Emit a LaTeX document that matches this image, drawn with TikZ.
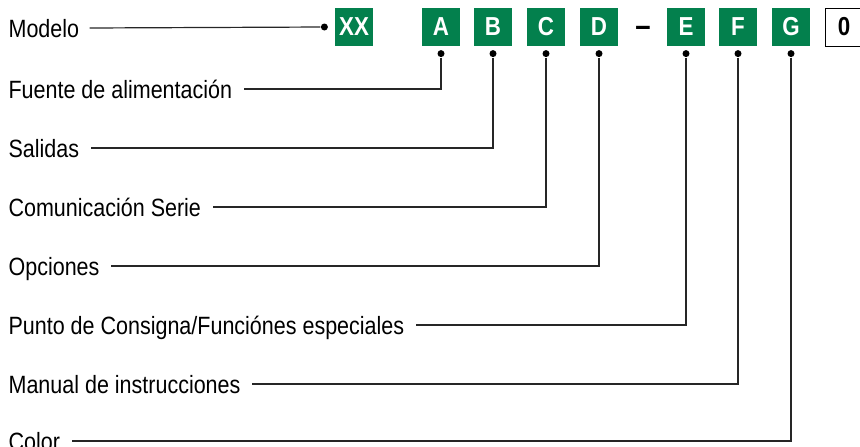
\documentclass[tikz,border=0pt]{standalone}
\usepackage{fontspec}
\setmainfont{Liberation Sans}[FakeStretch=0.86]
\usetikzlibrary{arrows}
\definecolor{codegreen}{RGB}{3,128,77}

\begin{document}
\begin{tikzpicture}[x=1pt,y=-1pt,line width=1.2pt,
    code node/.style={fill=codegreen,text=white,minimum width=38pt,minimum height=38pt,
      inner sep=0pt,font=\bfseries\fontsize{26}{26}\selectfont},
    label node/.style={anchor=west,inner sep=0pt,text height=25pt,text depth=6pt,
      font=\fontsize{25}{25}\selectfont},
    wire/.style={draw=black!85},
    dot/.style={circle,fill=black,inner sep=0pt,minimum size=7pt}]
  \useasboundingbox (0,0) rectangle (860,447);

  % code boxes
  \node[code node] (xx) at (354,27) {XX};
  \node[code node] (a) at (441,27) {A};
  \node[code node] (b) at (493,27) {B};
  \node[code node] (c) at (546,27) {C};
  \node[code node] (d) at (599,27) {D};
  \node[font=\bfseries\fontsize{32}{32}\selectfont] (dash) at (643,31) {–};
  \node[code node] (e) at (686,27) {E};
  \node[code node] (f) at (738,27) {F};
  \node[code node] (g) at (791,27) {G};
  \node[code node,fill=white,text=black,draw=black,line width=0.8pt] (zero) at (844,27) {0};

  % labels
  \node[label node] (modelo) at (8,28) {Modelo};
  \node[label node] (fuente) at (8,89) {Fuente de alimentación};
  \node[label node] (salidas) at (8,148) {Salidas};
  \node[label node] (serie) at (8,207) {Comunicación Serie};
  \node[label node] (opciones) at (8,266) {Opciones};
  \node[label node] (consigna) at (8,325) {Punto de Consigna/Funciónes especiales};
  \node[label node] (manual) at (8,384) {Manual de instrucciones};
  \node[label node] (color) at (8,441) {Color};

  % connectors
  \node[dot] (xx dot) at ([xshift=-10pt]xx.west) {};
  \draw[wire] ([xshift=10pt]modelo.east) -- (xx dot);
  \foreach \code/\name in {a/fuente,b/salidas,c/serie,d/opciones,e/consigna,f/manual,g/color}{
    \node[dot] (\code dot) at ([yshift=-7pt]\code.south) {};
    \draw[wire] (\code dot) |- ([xshift=11pt]\name.east);
  }
\end{tikzpicture}
\end{document}
